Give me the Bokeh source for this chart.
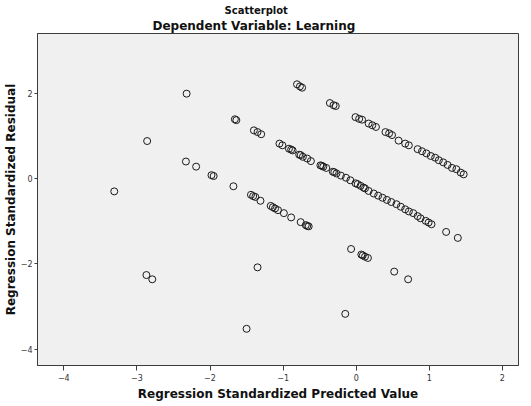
from bokeh.plotting import figure
from bokeh.models import ColumnDataSource, Range1d, FixedTicker, Title
from bokeh.embed import file_html
from bokeh.resources import INLINE

# Standardized predicted values and standardized residuals
predicted = [
    # scattered cases
    -3.31, -2.86, -2.32, -2.87, -2.79, -1.50, -1.35, -0.15,
    # lower-left band
    -2.33, -2.19, -1.98, -1.95, -1.68, -1.44, -1.41, -1.38, -1.31, -1.17,
    -1.14, -1.11, -1.07, -0.99, -0.89, -0.76, -0.69, -0.67, -0.65,
    # main band
    -1.66, -1.64, -1.40, -1.35, -1.30, -1.05, -1.01, -0.92, -0.89, -0.87,
    -0.78, -0.76, -0.73, -0.67, -0.62, -0.49, -0.47, -0.45, -0.41, -0.32,
    -0.30, -0.27, -0.21, -0.14, -0.08, -0.01, 0.02, 0.06, 0.10, 0.12,
    0.17, 0.24, 0.30, 0.36, 0.42, 0.48, 0.55, 0.61, 0.67, 0.72,
    0.78, 0.84, 0.88, 0.95, 0.99, 1.03, 1.23, 1.39,
    # upper band
    -0.81, -0.77, -0.74, -0.36, -0.31, -0.28, -0.01, 0.04, 0.08, 0.17,
    0.22, 0.27, 0.40, 0.45, 0.49, 0.58, 0.67, 0.72, 0.84, 0.90,
    0.96, 1.02, 1.08, 1.13, 1.19, 1.25, 1.31, 1.37, 1.43, 1.47,
    # lower band
    -0.07, 0.07, 0.09, 0.12, 0.16, 0.52, 0.71,
]

residual = [
    -0.30, 0.88, 1.99, -2.26, -2.36, -3.52, -2.08, -3.17,
    0.40, 0.28, 0.08, 0.06, -0.18, -0.38, -0.41, -0.43, -0.52, -0.64,
    -0.67, -0.70, -0.74, -0.81, -0.91, -1.02, -1.09, -1.11, -1.12,
    1.39, 1.37, 1.13, 1.09, 1.04, 0.82, 0.78, 0.70, 0.68, 0.66,
    0.56, 0.55, 0.51, 0.47, 0.41, 0.31, 0.30, 0.28, 0.25, 0.16,
    0.15, 0.12, 0.07, 0.02, -0.04, -0.11, -0.13, -0.17, -0.21, -0.23,
    -0.29, -0.35, -0.40, -0.45, -0.50, -0.55, -0.60, -0.66, -0.72, -0.77,
    -0.81, -0.88, -0.93, -0.99, -1.03, -1.07, -1.25, -1.39,
    2.21, 2.16, 2.13, 1.77, 1.72, 1.70, 1.44, 1.40, 1.38, 1.29,
    1.25, 1.21, 1.09, 1.06, 1.02, 0.89, 0.82, 0.78, 0.69, 0.64,
    0.59, 0.53, 0.49, 0.43, 0.38, 0.32, 0.25, 0.22, 0.14, 0.10,
    -1.65, -1.78, -1.80, -1.83, -1.86, -2.18, -2.36,
]

x_ticks = [-4, -3, -2, -1, 0, 1, 2]
y_ticks = [-4, -2, 0, 2]

FONT = "DejaVu Sans"

p = figure(
    width=531, height=406,
    x_range=Range1d(-4.36, 2.22), y_range=Range1d(-4.38, 3.40),
    output_backend="svg", toolbar_location=None,
    min_border_left=37, min_border_right=13,
    min_border_top=33, min_border_bottom=41,
)

p.background_fill_color = "#f0f0f0"
p.border_fill_color = "white"
p.outline_line_color = "#3c3c3c"
p.outline_line_width = 1
p.grid.visible = False

# titles: main title on top, dependent-variable line next to the frame
p.title.text = "Scatterplot"
p.title.text_font = FONT
p.title.text_font_size = "10px"
p.title.text_font_style = "bold"
p.title.text_color = "#111111"
p.title.align = "left"
p.title.offset = 187
p.title.standoff = 0

sub_title = Title(
    text="Dependent Variable: Learning", align="left", offset=115,
    text_font=FONT, text_font_size="12px", text_font_style="bold",
    text_color="#111111", standoff=2,
)
p.add_layout(sub_title, "above")

# axes
for ax, label, ticks in (
    (p.xaxis[0], "Regression Standardized Predicted Value", x_ticks),
    (p.yaxis[0], "Regression Standardized Residual", y_ticks),
):
    ax.ticker = FixedTicker(ticks=ticks)
    ax.axis_label = label
    ax.axis_label_text_font = FONT
    ax.axis_label_text_font_size = "12px"
    ax.axis_label_text_font_style = "bold"
    ax.axis_label_text_color = "#111111"
    ax.major_label_text_font = FONT
    ax.major_label_text_font_size = "8px"
    ax.major_label_text_color = "#333333"
    ax.axis_line_color = "#3c3c3c"
    ax.major_tick_line_color = "#3c3c3c"
    ax.major_tick_in = 0
    ax.minor_tick_line_color = None

p.xaxis.major_tick_out = 5
p.xaxis.major_label_standoff = 3
p.xaxis.axis_label_standoff = 3
p.yaxis.major_tick_out = 3
p.yaxis.major_label_standoff = 2
p.yaxis.axis_label_standoff = 0

source = ColumnDataSource(data=dict(x=predicted, y=residual))
p.scatter("x", "y", source=source, marker="circle", size=7,
          fill_color=None, line_color="#1a1a1a", line_width=1)

open("out.html", "w").write(file_html(p, INLINE))
